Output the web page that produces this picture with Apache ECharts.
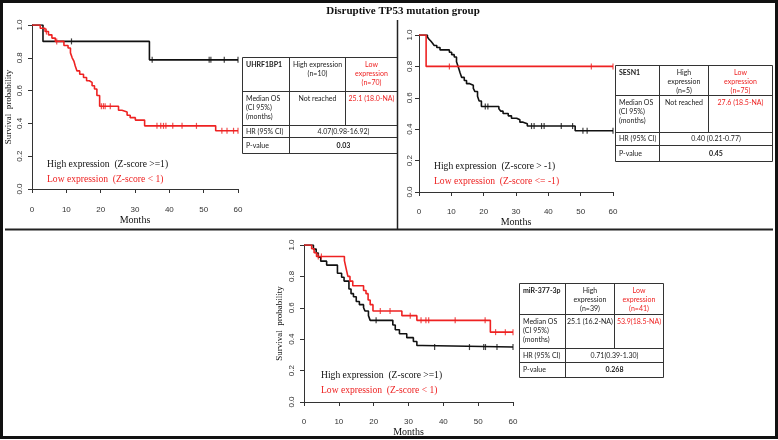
<!DOCTYPE html>
<html><head><meta charset="utf-8">
<script src="https://cdn.jsdelivr.net/npm/echarts@6/dist/echarts.min.js"></script>
<style>html,body{margin:0;padding:0;background:#fff}#c{width:778px;height:440px}</style>
</head><body><div id="c"></div>
<script>
// ---------- DATA ----------
const title = 'Disruptive TP53 mutation group';
const xTicks = [0, 10, 20, 30, 40, 50, 60];
const yTicks = [0, 0.2, 0.4, 0.6, 0.8, 1.0];

// Panel 1: UHRF1BP1
const p1HighT = [0, 3.2, 34.2, 60];
const p1HighS = [1, 0.9, 0.7875, 0.7875];
const p1HighCens = [11.5, 35, 51.6, 52.1, 56, 60];
const p1LowT = [0, 2.4, 3.8, 4.8, 5.8, 6.8, 9.3, 10.5, 11.2, 11.7, 12.2, 12.6, 13.1, 13.9, 15.0, 15.9, 16.7, 17.5, 18.2, 18.9, 19.7, 25.2, 26.2, 27.7, 28.6, 30.1, 32.8, 53.5, 60];
const p1LowS = [1, 0.98, 0.96, 0.94, 0.92, 0.9, 0.875, 0.86, 0.83, 0.8, 0.78, 0.75, 0.72, 0.7, 0.68, 0.66, 0.65, 0.63, 0.61, 0.57, 0.505, 0.48, 0.47, 0.45, 0.435, 0.42, 0.385, 0.355, 0.355];
const p1LowCens = [4.2, 7.2, 20.2, 20.8, 21.3, 22.8, 36.4, 37.5, 38.3, 39.0, 41.0, 43.7, 47.9, 55.3, 56.8, 58.7, 60];

// Panel 2: SESN1
const p2HighT = [0, 2.6, 3.1, 3.7, 4.2, 4.7, 5.5, 6.5, 9.4, 10.1, 10.9, 11.6, 12.1, 12.7, 13.2, 14.0, 14.7, 15.7, 16.8, 17.3, 18.1, 18.6, 19.3, 24.7, 25.3, 26.0, 27.6, 28.6, 30.2, 31.2, 32.2, 33.5, 48.3, 60];
const p2HighS = [1, 0.987, 0.973, 0.96, 0.947, 0.933, 0.92, 0.905, 0.89, 0.875, 0.86, 0.83, 0.8, 0.76, 0.73, 0.71, 0.69, 0.68, 0.66, 0.64, 0.61, 0.58, 0.545, 0.53, 0.515, 0.5, 0.485, 0.47, 0.46, 0.445, 0.435, 0.42, 0.39, 0.39];
const p2HighCens = [20.5, 21.3, 34.8, 35.6, 37.9, 38.7, 44.0, 47.5, 50.7, 52.0, 60];
const p2LowT = [0, 2.2, 60];
const p2LowS = [1, 0.8, 0.8];
const p2LowCens = [9.4, 53.3, 60];

// Panel 3: miR-377-3p
const p3HighT = [0, 2.7, 3.5, 4.1, 4.8, 6.5, 9.6, 10.8, 11.5, 12.9, 13.5, 14.2, 15.0, 15.9, 17.1, 17.5, 18.5, 19.0, 25.5, 26.2, 27.4, 29.5, 31.4, 32.4, 33.9, 60];
const p3HighS = [1, 0.974, 0.949, 0.923, 0.897, 0.872, 0.82, 0.795, 0.77, 0.72, 0.69, 0.67, 0.64, 0.62, 0.6, 0.58, 0.55, 0.52, 0.49, 0.46, 0.435, 0.41, 0.385, 0.36, 0.35, 0.35];
const p3HighCens = [20.7, 37.5, 47.5, 51.6, 52.1, 55.4, 60];
const p3LowT = [0, 2.2, 2.9, 3.6, 11.6, 12.1, 12.6, 13.2, 14.0, 17.1, 17.8, 18.4, 19.0, 19.8, 28.1, 32.4, 53.5, 60];
const p3LowS = [1, 0.976, 0.951, 0.927, 0.9, 0.85, 0.8, 0.77, 0.74, 0.71, 0.69, 0.65, 0.62, 0.58, 0.55, 0.52, 0.445, 0.445];
const p3LowCens = [4.1, 5.0, 21.9, 24.7, 30.5, 33.6, 35.0, 35.8, 43.4, 52.0, 55.0, 57.8, 60];

// Legends
const p1Legend = ['High expression  (Z-score >=1)', 'Low expression  (Z-score < 1)'];
const p2Legend = ['High expression  (Z-score > -1)', 'Low expression  (Z-score <= -1)'];
const p3Legend = ['High expression  (Z-score >=1)', 'Low expression  (Z-score < 1)'];

// Tables
const t1Header = ['UHRF1BP1', 'High expression\n(n=10)', 'Low\nexpression\n(n=70)'];
const t1Median = ['Median OS\n(CI 95%)\n(months)', 'Not reached', '25.1 (18.0-NA)'];
const t1HR = ['HR (95% CI)', '4.07(0.98-16.92)'];
const t1P = ['P-value', '0.03'];
const t2Header = ['SESN1', 'High\nexpression\n(n=5)', 'Low\nexpression\n(n=75)'];
const t2Median = ['Median OS\n(CI 95%)\n(months)', 'Not reached', '27.6 (18.5-NA)'];
const t2HR = ['HR (95% CI)', '0.40 (0.21-0.77)'];
const t2P = ['P-value', '0.45'];
const t3Header = ['miR-377-3p', 'High\nexpression\n(n=39)', 'Low\nexpression\n(n=41)'];
const t3Median = ['Median OS\n(CI 95%)\n(months)', '25.1 (16.2-NA)', '53.9(18.5-NA)'];
const t3HR = ['HR (95% CI)', '0.71(0.39-1.30)'];
const t3P = ['P-value', '0.268'];

// ---------- BUILD ----------
const BLACK = '#111';
const RED = '#ee2222';
const SERIF = '"Liberation Serif", "DejaVu Serif", serif';
const SANS = '"Liberation Sans", Arial, sans-serif';
const TSANS = 'Lato, "Liberation Sans", sans-serif';

function survAt(T, S, t) { let v = S[0]; for (let i = 0; i < T.length; i++) if (T[i] <= t) v = S[i]; return v; }
function pts(T, S) { return T.map((t, i) => [t, S[i]]); }
function cens(T, S, C) { return C.map(t => [t, survAt(T, S, t)]); }

const grids = [
  {left: 32, top: 25, width: 206, height: 164},
  {left: 419, top: 35, width: 194, height: 157},
  {left: 304, top: 245, width: 209, height: 157}
];
const axCfg = [
  {xOff: 13, xMargin: 4, nameGapX: 12, yMargin: 8, yName: 'Survival  probability', nameGapY: 19},
  {xOff: 8, xMargin: 8, nameGapX: 17, yMargin: 5, yName: '', nameGapY: 19},
  {xOff: 8, xMargin: 8, nameGapX: 16, yMargin: 8, yName: 'Survival  probability', nameGapY: 20}
];
const axisLineStyle = {color: '#333', width: 1};
const xAxes = axCfg.map((c, i) => ({
  gridIndex: i, type: 'value', min: xTicks[0], max: xTicks[xTicks.length - 1], interval: 10,
  offset: c.xOff,
  axisLine: {show: true, lineStyle: axisLineStyle}, axisTick: {show: true, length: 4, lineStyle: axisLineStyle},
  splitLine: {show: false},
  axisLabel: {margin: c.xMargin, fontFamily: SANS, fontSize: 8, color: '#333'},
  name: 'Months', nameLocation: 'middle', nameGap: c.nameGapX,
  nameTextStyle: {fontFamily: SERIF, fontSize: 10, color: '#111'}
}));
const yAxes = axCfg.map((c, i) => ({
  gridIndex: i, type: 'value', min: yTicks[0], max: yTicks[yTicks.length - 1], interval: 0.2,
  axisLine: {show: true, lineStyle: axisLineStyle}, axisTick: {show: true, length: 4, lineStyle: axisLineStyle},
  splitLine: {show: false},
  axisLabel: {margin: c.yMargin, rotate: 90, fontFamily: SANS, fontSize: 8, color: '#333', formatter: v => v.toFixed(1)},
  name: c.yName, nameLocation: 'middle', nameGap: c.nameGapY, nameRotate: 90,
  nameTextStyle: {fontFamily: SERIF, fontSize: 9, color: '#111'}
}));

const panels = [
  {hT: p1HighT, hS: p1HighS, hC: p1HighCens, lT: p1LowT, lS: p1LowS, lC: p1LowCens},
  {hT: p2HighT, hS: p2HighS, hC: p2HighCens, lT: p2LowT, lS: p2LowS, lC: p2LowCens},
  {hT: p3HighT, hS: p3HighS, hC: p3HighCens, lT: p3LowT, lS: p3LowS, lC: p3LowCens}
];
const series = [];
panels.forEach((p, i) => {
  [[p.hT, p.hS, p.hC, BLACK], [p.lT, p.lS, p.lC, RED]].forEach(([T, S, C, col]) => {
    series.push({type: 'line', step: 'end', xAxisIndex: i, yAxisIndex: i, data: pts(T, S),
      showSymbol: false, lineStyle: {color: col, width: 1.6}, silent: true, z: 3});
    series.push({type: 'scatter', xAxisIndex: i, yAxisIndex: i, data: cens(T, S, C),
      symbol: 'rect', symbolSize: [1.2, 6], itemStyle: {color: col}, silent: true, z: 4});
  });
});

const G = [];
function L(x1, y1, x2, y2, w, c) { G.push({type: 'line', shape: {x1, y1, x2, y2}, style: {stroke: c || '#333', lineWidth: w || 1}, z: 20, silent: true}); }
function T(x, y, text, opt) {
  opt = opt || {};
  G.push({type: 'text', x, y, z: 21, silent: true, style: Object.assign({text, fill: '#222', fontFamily: TSANS, fontSize: 7, lineHeight: 9, align: 'left', verticalAlign: 'top'}, opt)});
}
// frame & dividers
G.push({type: 'rect', shape: {x: 1.5, y: 1.5, width: 775, height: 436}, style: {fill: 'none', stroke: '#111', lineWidth: 3}, z: 20, silent: true});
L(397.5, 20, 397.5, 230, 1.5, '#222');
L(5, 229.5, 773, 229.5, 2, '#222');
T(403, 11, title, {fontFamily: SERIF, fontSize: 11, fontWeight: 'bold', fill: '#111', align: 'center', verticalAlign: 'middle'});

// legends
[[p1Legend, 47, 164], [p2Legend, 434, 166], [p3Legend, 321, 375]].forEach(([lg, x, y]) => {
  T(x, y, lg[0], {fontFamily: SERIF, fontSize: 9.6, fill: BLACK, verticalAlign: 'middle'});
  T(x, y + 15, lg[1], {fontFamily: SERIF, fontSize: 9.6, fill: RED, verticalAlign: 'middle'});
});

function table(cx, ry, head, med, hr, p) {
  G.push({type: 'rect', shape: {x: cx[0] + 0.5, y: ry[0] + 0.5, width: cx[3] - cx[0], height: ry[4] - ry[0]}, style: {fill: '#fff', stroke: '#333', lineWidth: 1}, z: 19, silent: true});
  for (let i = 1; i < 4; i++) L(cx[0], ry[i] + 0.5, cx[3], ry[i] + 0.5);
  L(cx[1] + 0.5, ry[0], cx[1] + 0.5, ry[4]);
  L(cx[2] + 0.5, ry[0], cx[2] + 0.5, ry[2]);
  const m1 = (cx[1] + cx[2]) / 2 + 0.5, m2 = (cx[2] + cx[3]) / 2 + 0.5, m12 = (cx[1] + cx[3]) / 2 + 0.5;
  T(cx[0] + 4, ry[0] + 3, head[0], {fontWeight: 'bold'});
  T(m1, ry[0] + 3, head[1], {align: 'center'});
  T(m2, ry[0] + 3, head[2], {align: 'center', fill: RED});
  T(cx[0] + 4, ry[1] + 3, med[0]);
  T(m1, ry[1] + 3, med[1], {align: 'center'});
  T(m2, ry[1] + 3, med[2], {align: 'center', fill: RED});
  T(cx[0] + 4, (ry[2] + ry[3]) / 2 + 0.5, hr[0], {verticalAlign: 'middle'});
  T(m12, (ry[2] + ry[3]) / 2 + 0.5, hr[1], {verticalAlign: 'middle', align: 'center'});
  T(cx[0] + 4, (ry[3] + ry[4]) / 2 + 0.5, p[0], {verticalAlign: 'middle'});
  T(m12, (ry[3] + ry[4]) / 2 + 0.5, p[1], {verticalAlign: 'middle', align: 'center', fontWeight: 'bold'});
}
table([242, 289, 345, 397], [57, 91, 125, 137, 153], t1Header, t1Median, t1HR, t1P);
table([615, 659, 708, 772], [65, 95, 132, 145, 161], t2Header, t2Median, t2HR, t2P);
table([519, 565, 614, 663], [283, 314, 348, 362, 377], t3Header, t3Median, t3HR, t3P);

const chart = echarts.init(document.getElementById('c'), null, {renderer: 'canvas'});
chart.setOption({
  animation: false,
  backgroundColor: '#fff',
  grid: grids,
  xAxis: xAxes,
  yAxis: yAxes,
  series: series,
  graphic: G
});
</script></body></html>
